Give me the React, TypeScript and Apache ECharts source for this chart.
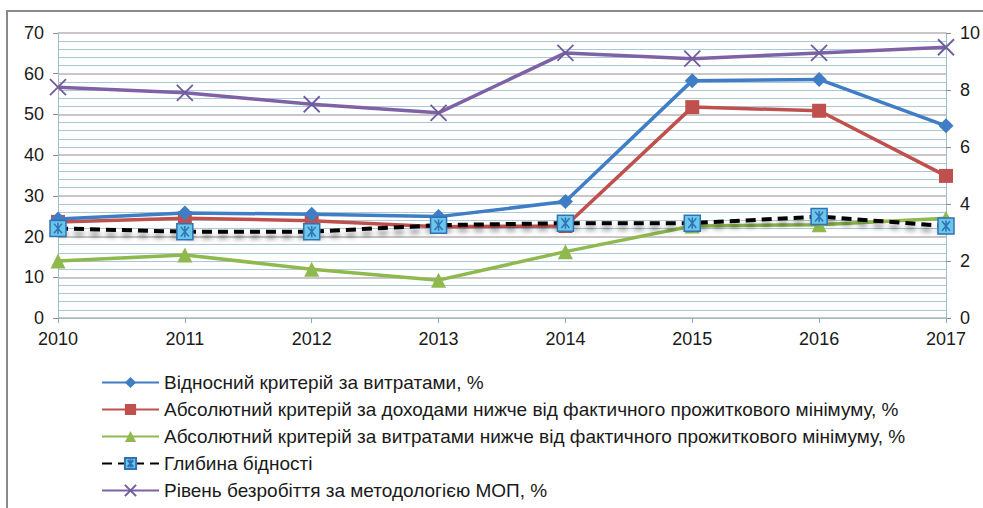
import React, { useEffect, useRef } from "react";
import * as echarts from "echarts";

const years = ["2010", "2011", "2012", "2013", "2014", "2015", "2016", "2017"];
const relativeExpenses = [24.3, 25.8, 25.5, 24.9, 28.6, 58.3, 58.6, 47.2];
const absoluteIncome = [23.6, 24.5, 23.9, 22.4, 22.6, 51.8, 50.9, 34.9];
const absoluteExpenses = [14.0, 15.5, 12.0, 9.3, 16.3, 22.6, 22.9, 24.5];
const povertyDepth = [22.0, 21.2, 21.2, 22.8, 23.3, 23.3, 24.9, 22.6];
const unemployment = [8.1, 7.9, 7.5, 7.2, 9.3, 9.1, 9.3, 9.5];

const names = [
  "Відносний критерій за витратами, %",
  "Абсолютний критерій за доходами нижче від фактичного прожиткового мінімуму, %",
  "Абсолютний критерій за витратами нижче від фактичного прожиткового мінімуму, %",
  "Глибина бідності",
  "Рівень безробіття за методологією МОП, %",
];

const FONT = "Liberation Sans";

export default function App() {
  const ref = useRef<HTMLDivElement>(null);
  useEffect(() => {
    const chart = echarts.init(ref.current!, null, { renderer: "svg" });
    const axisLabel = { fontFamily: FONT, fontSize: 18, color: "#1a1a1a" };
    chart.setOption({
      animation: false,
      backgroundColor: "#ffffff",
      graphic: [
        {
          type: "rect",
          shape: { x: 7, y: 11, width: 1000, height: 520 },
          style: { fill: "none", stroke: "#8a8a8a", lineWidth: 2 },
          z: -1,
        },
      ],
      grid: { left: 58, right: 37, top: 33, bottom: 190, containLabel: false },
      legend: {
        orient: "vertical",
        left: 96,
        top: 366,
        itemWidth: 57,
        itemHeight: 14,
        itemGap: 4,
        textStyle: { fontFamily: FONT, fontSize: 19, color: "#1a1a1a", lineHeight: 23 },
        data: names,
      },
      xAxis: {
        type: "category",
        data: years,
        boundaryGap: false,
        axisLine: { lineStyle: { color: "#9dbccc", width: 1 } },
        axisTick: { show: true, length: 5, lineStyle: { color: "#8aaabb" } },
        axisLabel: { ...axisLabel, margin: 12 },
        splitLine: { show: false },
      },
      yAxis: [
        {
          type: "value",
          min: 0,
          max: 70,
          interval: 10,
          axisLine: { show: true, lineStyle: { color: "#9dbccc" } },
          axisTick: { show: true, length: 5, lineStyle: { color: "#8a8a8a" } },
          axisLabel: { ...axisLabel, margin: 14 },
          splitLine: { show: true, lineStyle: { color: "#b5b5b5", width: 1.5 } },
          minorTick: { show: false, splitNumber: 5 },
          minorSplitLine: { show: true, lineStyle: { color: "#a9c8d8", width: 1.2 } },
        },
        {
          type: "value",
          min: 0,
          max: 10,
          interval: 2,
          position: "right",
          axisLine: { show: true, lineStyle: { color: "#9dbccc" } },
          axisTick: { show: true, length: 5, lineStyle: { color: "#8a8a8a" } },
          axisLabel: { ...axisLabel, margin: 14 },
          splitLine: { show: false },
        },
      ],
      series: [
        {
          name: names[2],
          type: "line",
          data: absoluteExpenses,
          yAxisIndex: 0,
          symbol: "triangle",
          symbolSize: 15,
          lineStyle: { color: "#8fb84e", width: 3.5 },
          itemStyle: { color: "#8fb84e" },
          z: 2,
        },
        {
          name: names[1],
          type: "line",
          data: absoluteIncome,
          yAxisIndex: 0,
          symbol: "rect",
          symbolSize: 14,
          lineStyle: { color: "#c0504d", width: 3.5 },
          itemStyle: { color: "#c0504d" },
          z: 3,
        },
        {
          name: names[0],
          type: "line",
          data: relativeExpenses,
          yAxisIndex: 0,
          symbol: "diamond",
          symbolSize: 15,
          lineStyle: { color: "#3f7dc4", width: 3.5 },
          itemStyle: { color: "#3f7dc4" },
          z: 4,
        },
        {
          name: names[3],
          type: "line",
          data: povertyDepth,
          yAxisIndex: 0,
          symbol: "path://M0,0 L10,0 L10,10 L0,10 Z M2.5,2 L7.5,8 M7.5,2 L2.5,8 M5,1.5 L5,8.5",
          symbolSize: 16,
          lineStyle: {
            color: "#000000",
            width: 4,
            type: [10, 6],
            shadowColor: "rgba(0,0,0,0.45)",
            shadowBlur: 5,
            shadowOffsetY: 5,
          },
          itemStyle: { color: "#6cc6ea", borderColor: "#2f72b5", borderWidth: 1.5 },
          z: 5,
        },
        {
          name: names[4],
          type: "line",
          data: unemployment,
          yAxisIndex: 1,
          symbol: "path://M0,0 L10,10 M10,0 L0,10",
          symbolSize: 16,
          lineStyle: { color: "#7d62a6", width: 3.5 },
          itemStyle: { color: "#7d62a6", borderColor: "#6e5c9e", borderWidth: 1.8 },
          z: 6,
        },
      ],
    });
    return () => chart.dispose();
  }, []);
  return (
    <div
      ref={ref}
      style={{ position: "absolute", left: 0, top: 0, width: 983, height: 508 }}
    />
  );
}
